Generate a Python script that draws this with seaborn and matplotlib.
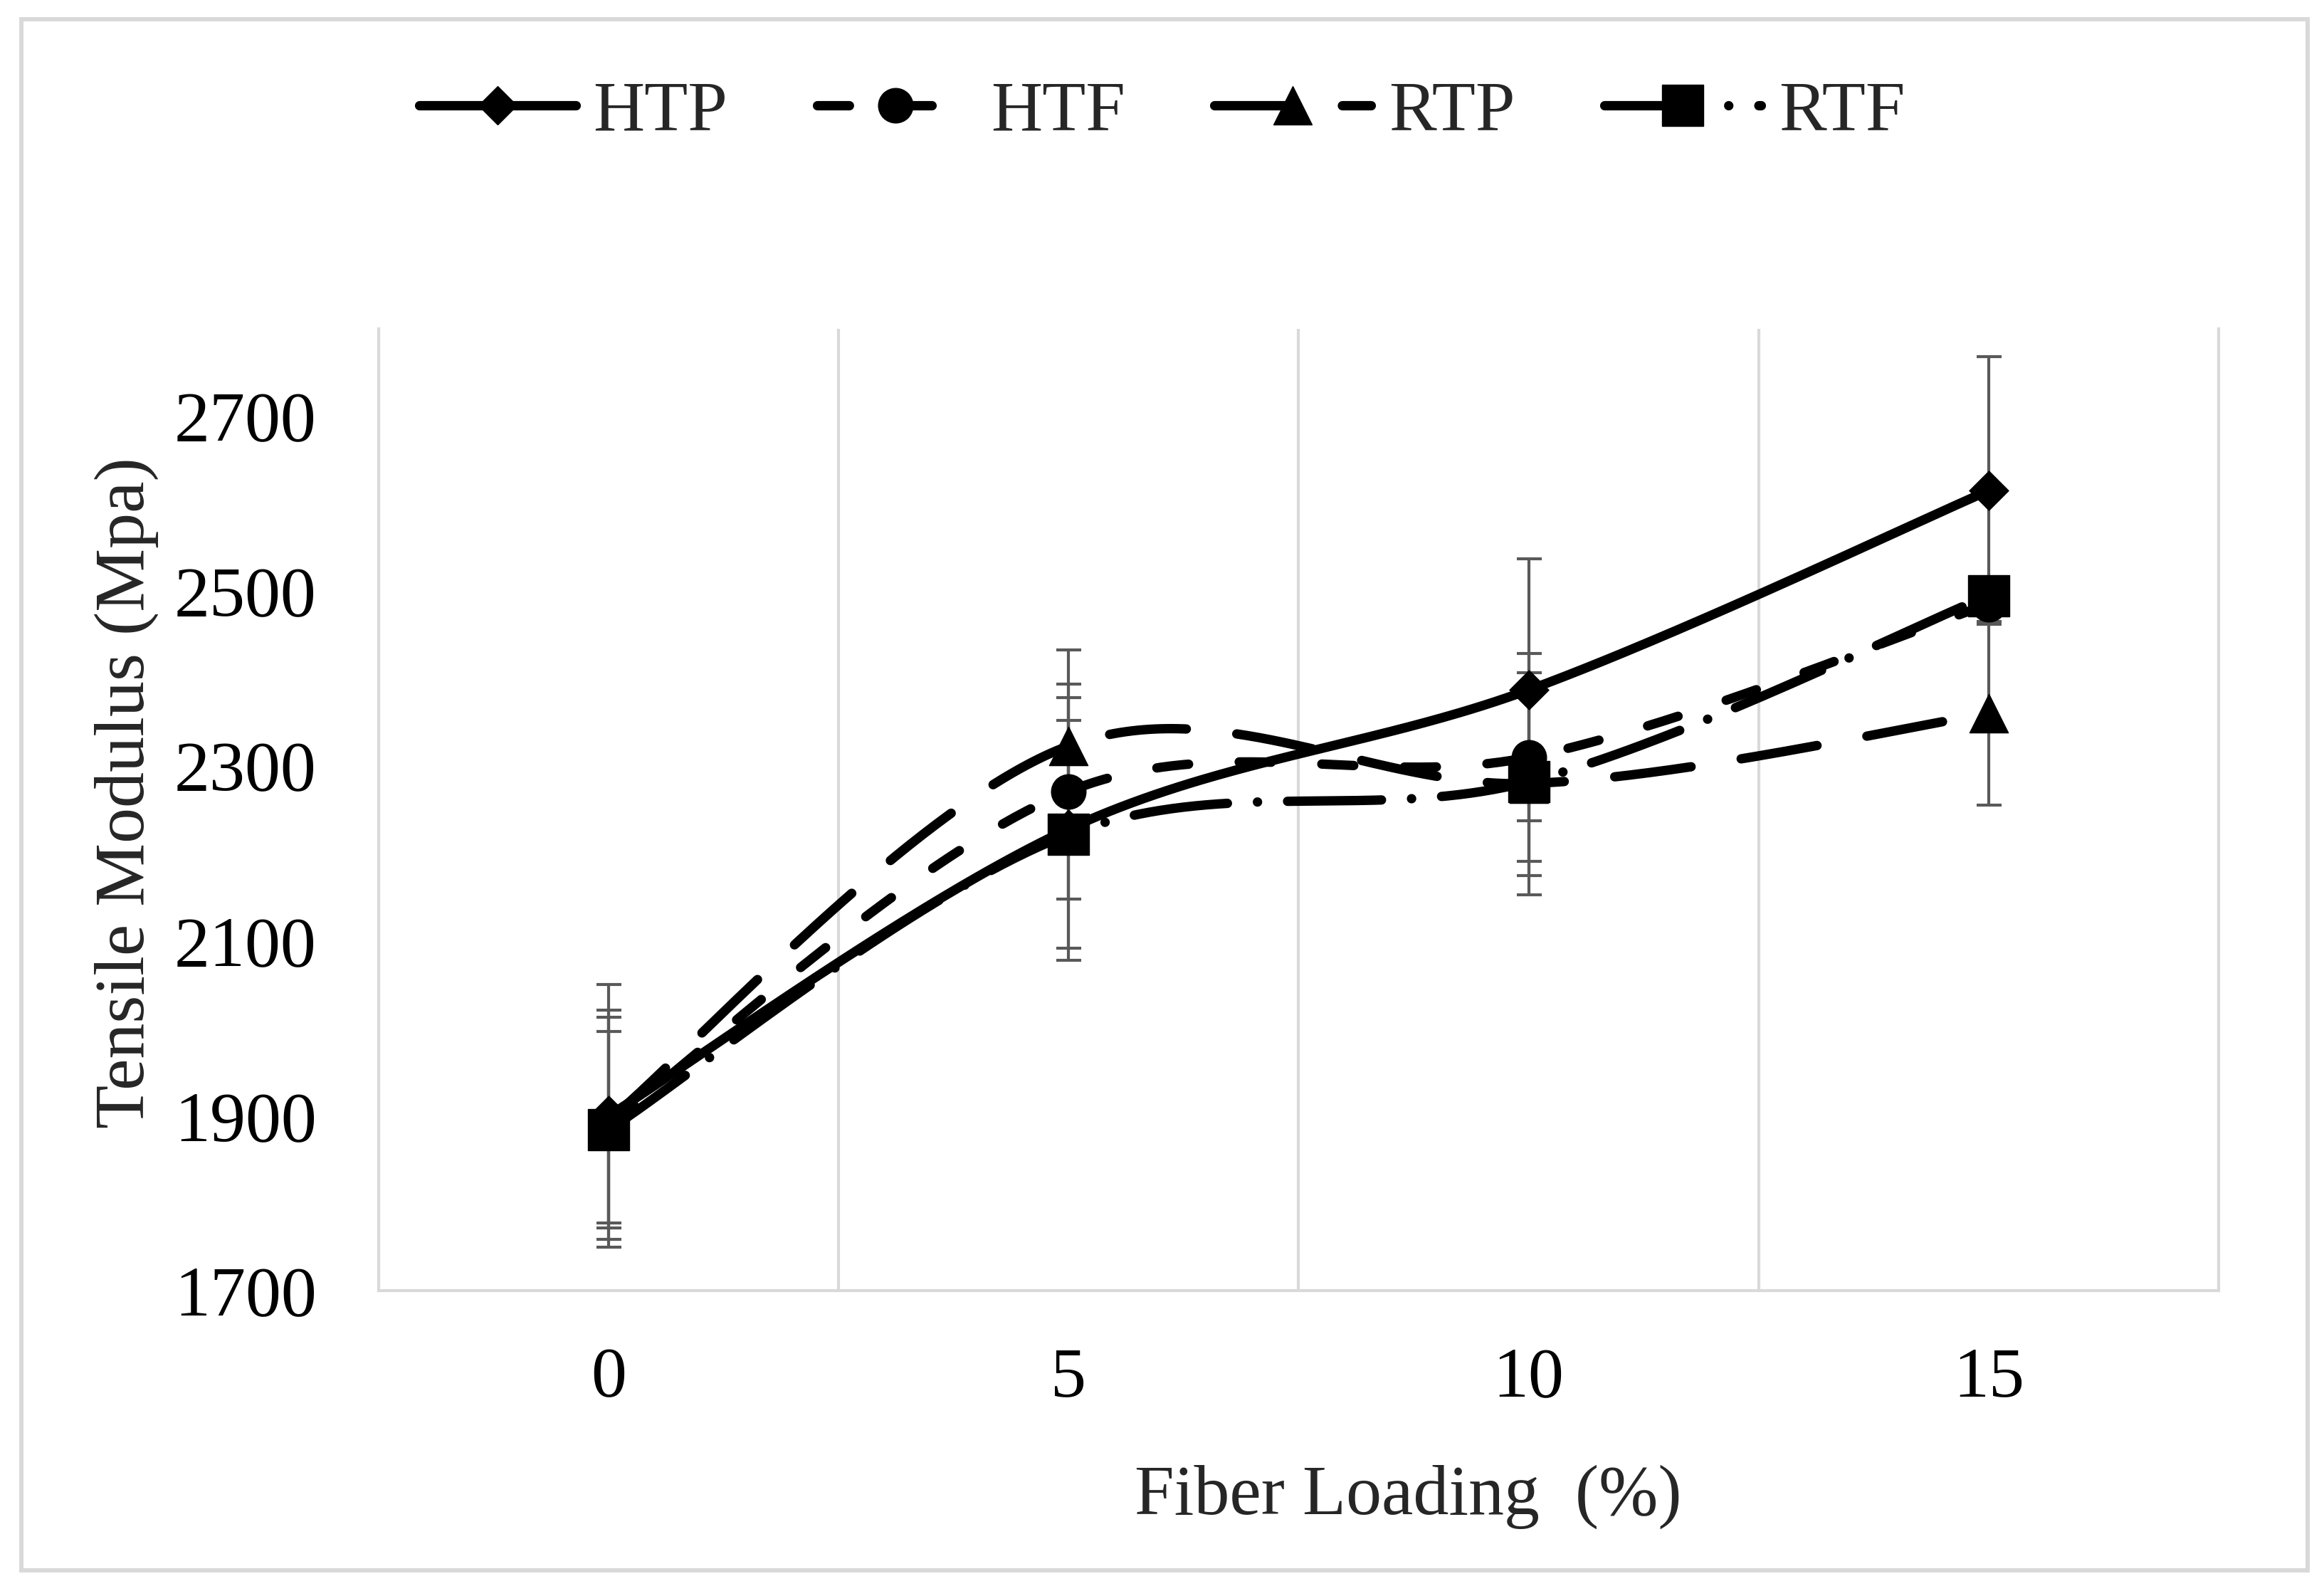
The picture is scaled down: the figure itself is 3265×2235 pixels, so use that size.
import numpy as np
import pandas as pd
import matplotlib
matplotlib.use("Agg")
import matplotlib.pyplot as plt
import seaborn as sns
from matplotlib.lines import Line2D
from matplotlib.patches import Rectangle

# ---------------- data ----------------
loading = ["0", "5", "10", "15"]
series = ["HTP", "HTF", "RTP", "RTF"]
htp = [1900, 2228, 2387, 2615]
htp_err = [150, 150, 150, 153]
htf = [1890, 2271, 2310, 2485]
htf_err = [131, 123, 119, 12]
rtp = [1895, 2323, 2280, 2360]
rtp_err = [118, 110, 127, 105]
rtf = [1884, 2222, 2282, 2495]
rtf_err = [112, 130, 107, 12]
y_ticks = [1700, 1900, 2100, 2300, 2500, 2700]

values = {"HTP": htp, "HTF": htf, "RTP": rtp, "RTF": rtf}
errors = {"HTP": htp_err, "HTF": htf_err, "RTP": rtp_err, "RTF": rtf_err}

# ---------------- style ----------------
sns.set_style("white")
plt.rcParams["font.family"] = ["Liberation Serif", "DejaVu Serif"]
plt.rcParams["lines.dash_capstyle"] = "round"
plt.rcParams["lines.solid_capstyle"] = "round"
plt.rcParams["lines.solid_joinstyle"] = "round"
plt.rcParams["lines.dash_joinstyle"] = "round"

FS = 72
LW = 9.5
GRID = "#d9d9d9"
ERR = "#595959"

dash_map = {"HTP": "", "HTF": (3.4, 5.4), "RTP": (8.2, 5.4), "RTF": (10.0, 3.2, 0.01, 3.2)}
marker_map = {"HTP": "D", "HTF": "o", "RTP": "^", "RTF": "s"}
msize_map = {"HTP": 28, "HTF": 35, "RTP": 39, "RTF": 42}


def excel_smooth(y, n=80):
    """Bezier smoothing of a category series (Catmull-Rom style, like Excel)."""
    y = np.asarray(y, float)
    x = np.arange(len(y), dtype=float)
    xs, ys = [], []
    m = len(y)
    for i in range(m - 1):
        i0 = max(i - 1, 0)
        i3 = min(i + 2, m - 1)
        p0 = np.array([x[i0], y[i0]])
        p1 = np.array([x[i], y[i]])
        p2 = np.array([x[i + 1], y[i + 1]])
        p3 = np.array([x[i3], y[i3]])
        c1 = p1 + (p2 - p0) / 6.0
        c2 = p2 - (p3 - p1) / 6.0
        t = np.linspace(0, 1, n, endpoint=(i == m - 2))[:, None]
        pts = (1 - t) ** 3 * p1 + 3 * (1 - t) ** 2 * t * c1 + 3 * (1 - t) * t ** 2 * c2 + t ** 3 * p2
        xs.append(pts[:, 0])
        ys.append(pts[:, 1])
    return np.concatenate(xs), np.concatenate(ys)


W, H = 3265, 2235
fig = plt.figure(figsize=(W / 100, H / 100), dpi=100)
ax = fig.add_axes([532 / W, 1 - 1813 / H, (3117 - 532) / W, (1813 - 462) / H])

idx = np.arange(len(loading))

# error bars (below the lines)
for s in series:
    ax.errorbar(idx, values[s], yerr=errors[s], fmt="none", ecolor=ERR,
                elinewidth=3, capsize=12.6, capthick=3, zorder=1.5)

# smoothed lines and markers
for i, s in enumerate(series):
    xs, ys = excel_smooth(values[s])
    df = pd.DataFrame({"x": xs, "y": ys, "series": s})
    sns.lineplot(data=df, x="x", y="y", style="series", dashes={s: dash_map[s]},
                 color="black", lw=LW, estimator=None, sort=False, legend=False,
                 ax=ax, zorder=2 + 2 * i)
    sns.scatterplot(x=idx, y=values[s], marker=marker_map[s], s=msize_map[s] ** 2,
                    color="black", edgecolor="black", linewidth=1, legend=False,
                    ax=ax, zorder=3 + 2 * i)

# axes
ax.set_xlim(-0.5, 3.5)
ax.set_ylim(1700, 2800)
ax.set_xticks(idx)
ax.set_xticklabels(loading)
ax.set_yticks(y_ticks)
ax.set_yticklabels([str(v) for v in y_ticks])
ax.set_xticks([0.5, 1.5, 2.5], minor=True)
ax.grid(False)
ax.grid(True, axis="x", which="minor", color=GRID, lw=3)
ax.tick_params(axis="both", which="both", length=0, labelsize=FS, colors="black")
ax.tick_params(axis="y", pad=63)
ax.tick_params(axis="x", pad=57)
for side in ["left", "right", "bottom"]:
    ax.spines[side].set_color(GRID)
    ax.spines[side].set_linewidth(3)
ax.spines["top"].set_visible(False)
ax.set_xlabel("")
ax.set_ylabel("")

fig.text(1978 / W, 1 - 2127 / H, "Fiber Loading  (%)", fontsize=FS, ha="center", va="baseline")
fig.text(202 / W, 1 - 1114 / H, "Tensile Modulus (Mpa)", fontsize=FS, rotation=90,
         rotation_mode="anchor", ha="center", va="baseline")

# legend
handles = []
for s in series:
    if dash_map[s] == "":
        h = Line2D([], [], color="black", lw=LW, linestyle="-", marker=marker_map[s],
                   markersize=msize_map[s], markeredgecolor="black")
    else:
        h = Line2D([], [], color="black", lw=LW, dashes=dash_map[s], marker=marker_map[s],
                   markersize=msize_map[s], markeredgecolor="black")
    handles.append(h)
fig.legend(handles, series, loc="center", bbox_to_anchor=(0.5, 1 - 158 / H),
           bbox_transform=fig.transFigure, ncol=4, frameon=False, fontsize=FS,
           handlelength=2.2, handletextpad=0.25, columnspacing=1.25, numpoints=1,
           borderaxespad=0)

# chart-area border
fig.patches.append(Rectangle((30 / W, 1 - 2206 / H), (3242 - 30) / W, (2206 - 27) / H,
                             transform=fig.transFigure, fill=False, edgecolor=GRID, lw=4.3))

fig.savefig("out.png", dpi=100)
